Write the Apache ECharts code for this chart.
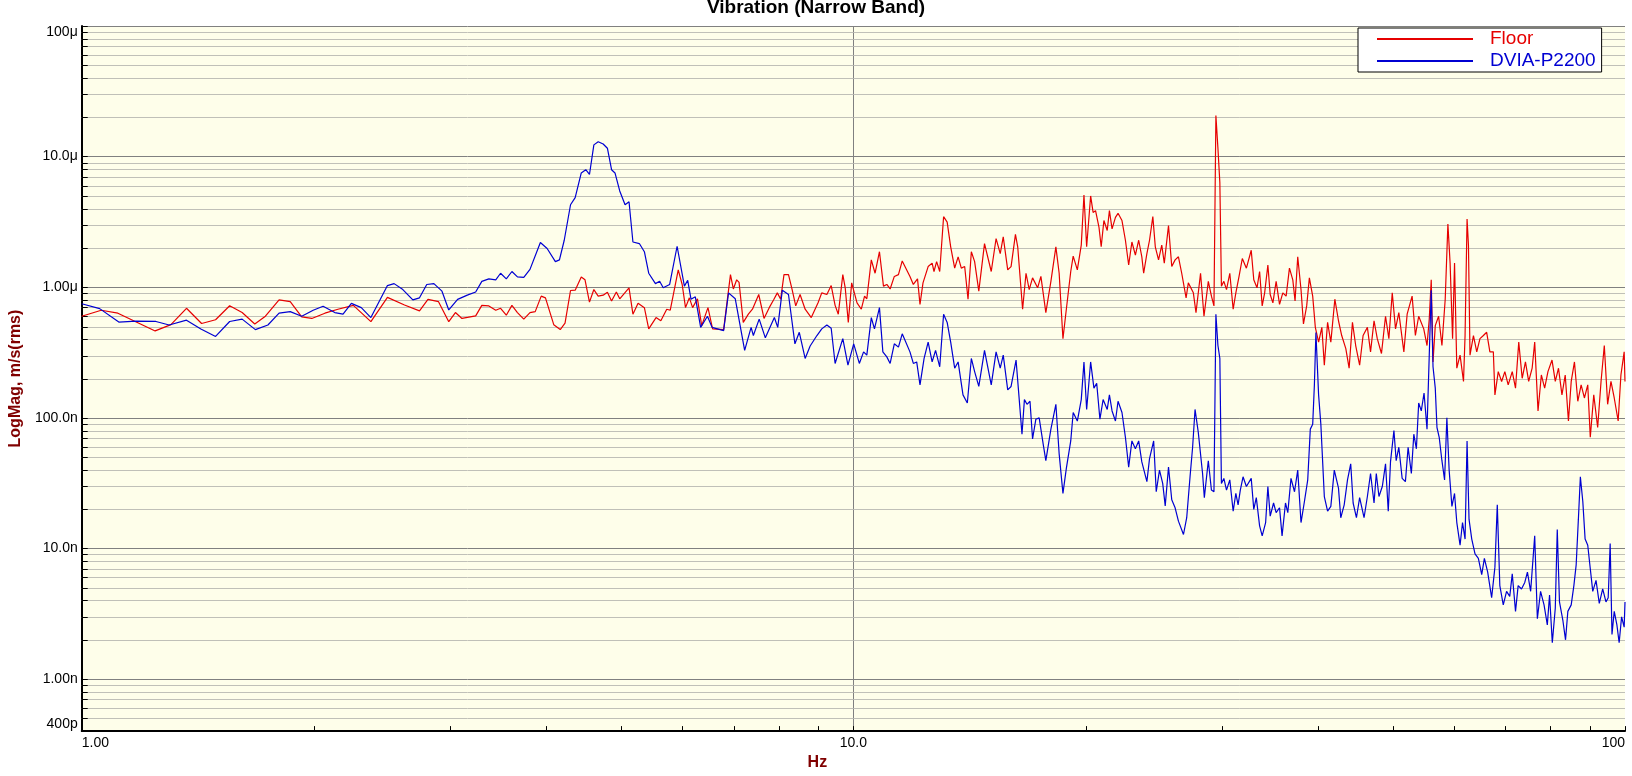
<!DOCTYPE html>
<html>
<head>
<meta charset="utf-8">
<title>Vibration (Narrow Band)</title>
<script src="https://cdn.jsdelivr.net/npm/echarts@6.0.0/dist/echarts.min.js"></script>
<style>
  html, body { margin: 0; padding: 0; background: #fff; }
  #chart { width: 1632px; height: 776px; }
</style>
</head>
<body>
<div id="chart"></div>
<script>
// spectra: [Hz, um/s rms]
var floorSpectrum = [
  [1.00,0.60],[1.06,0.667],[1.114,0.633],[1.245,0.463],[1.305,0.517],[1.367,0.69],[1.43,0.528],[1.491,0.564],
  [1.555,0.722],[1.614,0.64],[1.676,0.523],[1.73,0.60],[1.802,0.80],[1.863,0.775],[1.928,0.594],[1.987,0.577],
  [2.066,0.633],[2.148,0.679],[2.249,0.727],[2.37,0.545],[2.49,0.836],[2.62,0.731],[2.74,0.659],[2.81,0.808],
  [2.90,0.775],[2.99,0.545],[3.05,0.64],
  [3.11,0.577],[3.24,0.604],[3.30,0.727],[3.37,0.719],[3.44,0.667],[3.49,0.69],[3.55,0.611],[3.61,0.727],
  [3.67,0.64],[3.74,0.57],[3.81,0.64],[3.87,0.651],[3.94,0.855],[3.99,0.83],[4.09,0.517],[4.17,0.474],
  [4.23,0.532],[4.30,0.944],[4.36,0.95],[4.44,1.2],[4.49,1.14],[4.55,0.77],[4.61,0.96],[4.67,0.855],
  [4.74,0.87],[4.80,0.917],[4.86,0.784],[4.93,0.92],[4.98,0.816],[5.12,0.99],[5.18,0.622],[5.26,0.753],
  [5.36,0.698],[5.43,0.48],[5.55,0.586],[5.63,0.554],[5.73,0.679],[5.79,0.667],[5.85,0.906],[5.93,1.36],
  [6.00,1.05],[6.06,0.698],[6.13,0.83],[6.19,0.698],[6.28,0.816],[6.36,0.508],[6.48,0.698],[6.57,0.48],
  [6.79,0.474],[6.93,1.25],[6.99,0.97],[7.06,1.14],[7.11,1.09],[7.20,0.538],[7.31,0.622],[7.40,0.679],
  [7.54,0.88],[7.66,0.577],[7.78,0.698],[7.89,0.81],[7.97,0.906],[8.05,0.81],[8.13,1.25],[8.24,1.25],
  [8.33,0.96],[8.42,0.72],[8.53,0.88],[8.66,0.679],[8.82,0.586],[9.00,0.76],[9.10,0.906],[9.24,0.88],
  [9.36,1.03],[9.47,0.727],[9.56,0.622],[9.69,1.25],[9.76,0.99],[9.85,0.538],[9.95,1.08],
  [10.11,0.76],[10.24,0.679],[10.34,0.855],[10.41,0.816],[10.55,1.62],[10.67,1.28],[10.81,1.87],[10.94,1.02],
  [11.05,1.05],[11.16,0.97],[11.30,1.21],[11.44,1.25],[11.57,1.59],[11.84,1.21],[11.96,1.05],[12.11,1.16],
  [12.20,0.74],[12.31,1.08],[12.50,1.44],[12.65,1.53],[12.72,1.32],[12.82,1.57],[12.94,1.32],[13.09,3.47],
  [13.23,3.15],[13.37,2.04],[13.53,1.40],[13.67,1.71],[13.80,1.40],[13.94,1.44],[14.08,0.81],[14.22,1.87],
  [14.36,1.57],[14.54,0.933],[14.79,2.16],[15.09,1.32],[15.31,2.36],[15.50,1.81],[15.64,2.43],[15.85,1.36],
  [16.01,1.44],[16.22,2.54],[16.33,2.04],[16.57,0.679],[16.74,1.28],[16.90,0.96],[17.07,1.18],[17.33,0.99],
  [17.50,1.21],[17.76,0.64],[18.03,1.11],[18.30,2.04],[18.48,1.28],[18.69,0.403],[18.88,0.679],[19.13,1.32],
  [19.27,1.73],[19.51,1.36],[19.74,2.1],[19.90,5.09],[20.06,2.04],[20.30,5.0],[20.45,3.74],[20.60,3.86],
  [20.81,2.89],[20.95,2.04],[21.12,3.24],[21.33,2.72],[21.47,3.86],[21.64,2.8],[21.86,3.43],[22.03,3.68],
  [22.29,3.24],[22.52,2.29],[22.74,1.48],[22.96,2.22],[23.20,1.76],[23.43,2.29],[23.65,1.71],[23.78,1.28],
  [24.01,1.81],[24.20,2.29],[24.44,3.47],[24.62,2.04],[24.86,1.62],[25.10,2.1],[25.29,1.53],[25.61,2.97],
  [25.86,1.44],[26.12,1.62],[26.38,1.71],[26.64,1.28],[26.99,0.83],[27.17,1.08],[27.58,0.906],[27.80,0.64],
  [28.18,1.28],[28.47,0.60],[28.84,1.11],[29.11,0.855],[29.33,0.719],[29.50,20.6],[29.68,11.6],[29.85,6.32],
  [29.99,1.02],[30.21,1.11],[30.45,0.96],[30.75,1.28],
  [31.06,0.679],[31.31,0.906],[31.61,1.21],[31.92,1.66],[32.31,1.40],[32.78,1.92],[33.03,1.14],[33.35,0.99],
  [33.61,1.32],[33.87,0.72],[34.12,0.906],[34.45,1.48],[34.69,0.88],[34.97,0.76],[35.31,1.11],[35.67,0.74],
  [36.02,0.906],[36.38,0.855],[36.74,1.40],[37.11,1.14],[37.36,0.784],[37.66,1.71],[38.03,0.96],[38.31,0.523],
  [38.68,0.72],[38.99,1.18],[39.38,0.855],[39.69,0.493],[40.08,0.38],[40.47,0.493],[40.77,0.253],[41.17,0.538],
  [41.57,0.38],[42.07,0.81],[42.53,0.554],[42.94,0.427],[43.47,0.339],[43.90,0.24],[44.34,0.538],[44.77,0.358],
  [45.30,0.253],[45.77,0.427],[46.36,0.493],[46.80,0.32],[47.29,0.554],[47.75,0.404],[48.35,0.311],[48.94,0.60],
  [49.43,0.404],[49.93,0.906],[50.42,0.48],[50.92,0.64],[51.69,0.32],[52.20,0.622],[52.98,0.855],[53.50,0.427],
  [54.03,0.60],[54.85,0.48],[55.39,0.358],[55.76,0.57],[56.09,1.14],[56.39,0.268],[56.77,0.508],[57.34,0.60],
  [57.91,0.358],[58.48,0.81],[58.95,3.05],[59.34,1.53],[59.78,0.404],[60.13,1.53],[60.54,0.24],[61.13,0.302],
  [61.76,0.19],[62.05,0.427],[62.42,3.33],[62.68,2.1],[62.97,0.302],[63.62,0.427],[64.25,0.32],[64.87,0.404],
  [65.54,0.427],[66.18,0.452],[66.82,0.32],[67.51,0.32],[67.83,0.15],[68.51,0.226],[69.20,0.19],[69.87,0.226],
  [70.57,0.179],[71.43,0.226],[72.13,0.169],[72.83,0.38],[73.58,0.201],[74.30,0.268],[75.02,0.19],[75.80,0.24],
  [76.38,0.38],[77.14,0.113],[77.91,0.213],[78.68,0.169],[79.46,0.226],[80.43,0.277],[81.22,0.19],[82.00,0.24],
  [82.85,0.15],[83.66,0.213],[84.47,0.0946],[85.17,0.19],[86.00,0.268],[86.86,0.134],[87.73,0.179],[88.59,0.142],
  [89.48,0.179],[90.16,0.071],[91.10,0.15],[92.17,0.0844],[93.10,0.19],[94.01,0.358],[94.95,0.127],[95.90,0.19],
  [96.84,0.142],[97.98,0.0946],[98.79,0.213],[99.75,0.32],[100,0.19]
];
var dviaSpectrum = [
  [1.00,0.748],[1.055,0.686],[1.117,0.541],[1.176,0.55],[1.248,0.547],[1.298,0.514],[1.367,0.56],[1.427,0.479],
  [1.491,0.42],[1.555,0.547],[1.614,0.57],[1.679,0.474],[1.743,0.514],[1.802,0.633],[1.863,0.651],[1.928,0.60],
  [1.995,0.667],[2.055,0.715],[2.128,0.64],[2.181,0.622],[2.236,0.753],[2.303,0.698],[2.37,0.586],[2.49,1.03],
  [2.54,1.066],[2.607,0.96],[2.686,0.80],[2.74,0.83],[2.80,1.05],[2.86,1.066],[2.93,0.933],[2.99,0.67],
  [3.07,0.808],[3.16,0.87],[3.24,0.92],[3.30,1.11],[3.37,1.16],[3.44,1.14],[3.49,1.28],[3.55,1.16],
  [3.61,1.32],[3.67,1.2],[3.74,1.19],[3.81,1.37],[3.93,2.2],[4.01,1.98],[4.11,1.57],[4.16,1.62],
  [4.22,2.29],[4.30,4.28],[4.36,4.86],[4.44,7.5],[4.50,7.94],[4.55,7.3],[4.61,12.3],[4.67,13.0],
  [4.74,12.5],[4.80,11.6],[4.86,7.94],[4.91,7.5],[4.98,5.46],[5.06,4.28],[5.12,4.51],[5.18,2.22],
  [5.28,2.16],[5.36,1.87],[5.43,1.28],[5.54,1.066],[5.61,1.11],[5.67,0.99],[5.78,1.05],[5.91,2.06],
  [6.04,1.02],[6.10,1.13],[6.16,0.81],[6.24,0.845],[6.34,0.493],[6.47,0.60],[6.56,0.493],[6.79,0.466],
  [6.89,0.906],[7.03,0.816],[7.23,0.329],[7.37,0.493],[7.42,0.427],[7.55,0.57],[7.69,0.41],[7.90,0.586],
  [7.98,0.493],[8.09,0.95],[8.24,0.88],[8.40,0.369],[8.51,0.452],[8.66,0.285],[8.79,0.355],[8.97,0.427],
  [9.10,0.48],[9.24,0.514],[9.36,0.485],[9.47,0.261],[9.69,0.404],[9.84,0.253],
  [10.01,0.369],[10.18,0.261],[10.31,0.32],[10.41,0.302],[10.55,0.586],[10.65,0.48],[10.81,0.698],[10.92,0.32],
  [11.05,0.293],[11.16,0.261],[11.30,0.369],[11.44,0.348],[11.57,0.44],[11.84,0.32],[11.96,0.261],[12.08,0.268],
  [12.20,0.179],[12.35,0.285],[12.50,0.38],[12.65,0.268],[12.78,0.329],[12.94,0.246],[13.09,0.622],[13.23,0.538],
  [13.37,0.38],[13.53,0.24],[13.67,0.268],[13.87,0.15],[14.05,0.13],[14.22,0.285],[14.36,0.226],[14.54,0.174],
  [14.79,0.329],[15.09,0.179],[15.31,0.32],[15.50,0.24],[15.64,0.302],[15.85,0.164],[16.01,0.174],[16.25,0.277],
  [16.36,0.169],[16.54,0.075],[16.66,0.138],[16.79,0.127],[16.94,0.134],[17.07,0.069],[17.24,0.0977],[17.41,0.1],
  [17.62,0.063],[17.76,0.047],[18.03,0.082],[18.30,0.127],[18.48,0.053],[18.69,0.0264],[18.88,0.041],[19.13,0.0666],
  [19.27,0.11],[19.51,0.0946],[19.74,0.138],[19.90,0.268],[20.06,0.116],[20.30,0.268],[20.50,0.169],[20.67,0.184],
  [20.87,0.0977],[21.07,0.138],[21.33,0.116],[21.47,0.15],[21.64,0.113],[21.86,0.0946],[22.03,0.134],[22.29,0.11],
  [22.52,0.071],[22.74,0.042],[22.96,0.0666],[23.20,0.058],[23.43,0.0666],[23.65,0.046],[24.01,0.0325],[24.20,0.0488],
  [24.50,0.0666],[24.69,0.0272],[24.93,0.0398],[25.17,0.0315],[25.36,0.0212],[25.61,0.042],[25.86,0.0236],[26.12,0.0205],
  [26.38,0.0162],[26.78,0.0128],[27.04,0.0172],[27.31,0.0354],[27.52,0.0596],[27.72,0.116],[27.99,0.0775],[28.35,0.0375],
  [28.50,0.0245],[28.84,0.047],[29.11,0.028],[29.33,0.0272],[29.50,0.622],[29.68,0.358],[29.85,0.285],[29.99,0.0315],
  [30.21,0.0344],[30.45,0.028],[30.75,0.0335],
  [31.06,0.0193],[31.31,0.0264],[31.52,0.0216],[31.73,0.028],[31.99,0.0354],[32.31,0.0298],[32.78,0.0344],[33.03,0.0199],
  [33.28,0.0245],[33.61,0.0149],[33.87,0.0125],[34.22,0.0158],[34.45,0.0298],[34.69,0.0177],[35.04,0.0223],[35.31,0.0188],
  [35.67,0.0205],[35.94,0.0125],[36.31,0.0223],[36.56,0.0188],[36.91,0.0344],[37.30,0.0272],[37.66,0.0398],[38.03,0.0158],
  [38.42,0.0229],[38.80,0.0335],[39.10,0.082],[39.38,0.0892],[39.58,0.179],[39.76,0.45],[40.08,0.15],[40.35,0.0892],
  [40.77,0.025],[41.17,0.0193],[41.57,0.021],[42.00,0.0398],[42.53,0.029],[42.82,0.0172],[43.26,0.0216],[43.69,0.0335],
  [44.11,0.0445],[44.43,0.0223],[44.87,0.0172],[45.30,0.0245],[45.90,0.0172],[46.36,0.025],[46.80,0.0375],[47.29,0.0223],
  [47.61,0.0375],[47.99,0.025],[48.47,0.0298],[48.94,0.0445],[49.34,0.0193],[49.67,0.046],[50.18,0.08],[50.52,0.047],
  [50.92,0.0596],[51.43,0.0344],[51.93,0.0325],[52.35,0.0596],[52.86,0.0375],[53.25,0.075],[53.66,0.058],[54.03,0.13],
  [54.45,0.113],[54.90,0.155],[55.39,0.082],[55.76,0.302],[56.09,0.95],[56.39,0.246],[56.77,0.169],[57.06,0.0844],
  [57.44,0.071],[57.91,0.047],[58.37,0.0335],[58.77,0.1],[59.17,0.0398],[59.66,0.021],[60.13,0.0264],[60.54,0.0158],
  [61.13,0.0106],[61.58,0.0158],[62.05,0.0118],[62.42,0.0666],[62.79,0.0167],[63.30,0.0118],[63.92,0.0091],[64.56,0.0084],
  [65.21,0.0063],[65.73,0.0084],[66.38,0.0066],[67.17,0.0042],[67.83,0.0072],[68.31,0.0216],[68.83,0.0052],[69.54,0.0037],
  [70.23,0.0047],[70.90,0.0043],[71.43,0.0064],[72.13,0.0033],[72.70,0.0052],[73.43,0.0049],[74.15,0.0055],[74.74,0.0066],
  [75.46,0.0047],[76.38,0.0125],[76.99,0.0029],[77.73,0.0047],[78.54,0.0037],[79.31,0.0026],[79.84,0.0044],[80.50,0.0019],
  [81.22,0.0035],[81.70,0.014],[82.24,0.0039],[83.09,0.0028],[83.74,0.002],[84.32,0.0033],[85.17,0.0037],[85.85,0.0052],
  [86.44,0.0075],[87.01,0.0167],[87.53,0.0354],[88.17,0.0229],[88.78,0.0118],[89.48,0.0106],[90.16,0.007],[90.83,0.0047],
  [91.72,0.0057],[92.61,0.0038],[93.56,0.0049],[94.48,0.0039],[95.11,0.0042],[95.67,0.0109],[96.19,0.0022],[96.84,0.0033],
  [97.61,0.0026],[98.27,0.0019],[98.99,0.003],[99.75,0.0025],[100,0.0039]
];

var xMin = 1, xMax = 100;
var yMin = 4e-10, yMax = 1e-4;
var xTickValues = [1, 10, 100];
var xTickLabels = ['1.00', '10.0', '100'];
var yTickValues = [4e-10, 1e-9, 1e-8, 1e-7, 1e-6, 1e-5, 1e-4];
var yTickLabels = ['400p', '1.00n', '10.0n', '100.0n', '1.00\u03bc', '10.0\u03bc', '100\u03bc'];
var minorSteps = [2, 3, 4, 5, 6, 7, 8, 9];
var xDecades = [1, 10];
var yDecades = [1e-10, 1e-9, 1e-8, 1e-7, 1e-6, 1e-5];

var floorColor = '#e60000';
var dviaColor = '#0000d2';
var font = 'Liberation Sans, Arial, sans-serif';

function tickText(v, values, labels) {
  for (var i = 0; i < values.length; i++) {
    if (Math.abs(v / values[i] - 1) < 1e-6) return labels[i];
  }
  return '';
}

// minor grid positions (2..9 of each decade)
var yMinor = [];
yDecades.forEach(function (d) {
  minorSteps.forEach(function (m) {
    var v = m * d;
    if (v > yMin * 1.0001 && v < yMax) yMinor.push([xMin, v]);
  });
});
var xMinor = [];
xDecades.forEach(function (d) {
  minorSteps.forEach(function (m) { xMinor.push([m * d, yMin]); });
});

function toSI(list) {
  return list.map(function (p) { return [p[0], p[1] * 1e-6]; });
}

var chart = echarts.init(document.getElementById('chart'));
var option = {
  animation: false,
  backgroundColor: '#ffffff',
  textStyle: { fontFamily: font },
  title: {
    text: 'Vibration (Narrow Band)',
    left: 'center',
    top: -2,
    padding: 0,
    textStyle: { fontFamily: font, fontSize: 19, fontWeight: 'bold', color: '#000' }
  },
  legend: {
    orient: 'vertical',
    left: 1358,
    top: 28,
    padding: [0, 6, 0, 19],
    itemGap: 0,
    itemWidth: 96,
    itemHeight: 2,
    icon: 'rect',
    backgroundColor: '#ffffff',
    borderColor: '#000000',
    borderWidth: 1,
    borderRadius: 0,
    textStyle: { fontFamily: font, fontSize: 19, lineHeight: 22, padding: [0, 0, 0, 12] },
    data: [
      { name: 'Floor', textStyle: { color: floorColor } },
      { name: 'DVIA-P2200', textStyle: { color: dviaColor } }
    ]
  },
  grid: {
    left: 71, right: 7, top: 26, bottom: 35,
    show: true, backgroundColor: '#fefeea', borderWidth: 0
  },
  xAxis: {
    type: 'log',
    logBase: 10,
    min: xMin,
    max: xMax,
    name: 'Hz',
    nameLocation: 'middle',
    nameGap: 20,
    nameTextStyle: { fontFamily: font, fontSize: 16, fontWeight: 'bold', color: '#800000', padding: [0, 72, 0, 0] },
    axisLine: { onZero: false, lineStyle: { color: '#000', width: 2 } },
    axisTick: { inside: true, length: 5, lineStyle: { color: '#000' } },
    axisLabel: {
      fontFamily: font, fontSize: 14, color: '#000', margin: 5,
      alignMinLabel: 'left', alignMaxLabel: 'right',
      formatter: function (v) { return tickText(v, xTickValues, xTickLabels); }
    },
    splitLine: { show: true, showMinLine: false, showMaxLine: false, lineStyle: { color: '#808080', width: 1 } }
  },
  yAxis: {
    type: 'log',
    logBase: 10,
    min: yMin,
    max: yMax,
    name: 'LogMag, m/s(rms)',
    nameLocation: 'middle',
    nameRotate: 90,
    nameGap: 52,
    nameTextStyle: { fontFamily: font, fontSize: 16, fontWeight: 'bold', color: '#800000' },
    axisLine: { lineStyle: { color: '#000', width: 2 } },
    axisTick: { inside: true, length: 6, lineStyle: { color: '#000' } },
    axisLabel: {
      fontFamily: font, fontSize: 14, color: '#000', margin: 4,
      verticalAlignMinLabel: 'bottom',
      formatter: function (v) {
        var t = tickText(v, yTickValues, yTickLabels);
        // top label sits just inside the plot, like the original
        return Math.abs(v / yMax - 1) < 1e-6 ? '{top|' + t + '}' : t;
      },
      rich: { top: { fontFamily: font, fontSize: 14, color: '#000', padding: [12, 0, 0, 0] } }
    },
    splitLine: { show: true, showMinLine: false, showMaxLine: false, lineStyle: { color: '#808080', width: 1 } }
  },
  series: [
    {
      name: 'yMinorGrid',
      type: 'custom',
      silent: true,
      z: 1,
      data: yMinor,
      renderItem: function (params, api) {
        var a = api.coord([xMin, api.value(1)]);
        var b = api.coord([xMax, api.value(1)]);
        var y = Math.round(a[1]) + 0.5;
        return {
          type: 'group',
          children: [
            { type: 'line', shape: { x1: a[0], y1: y, x2: b[0], y2: y }, style: { stroke: '#c0c0b8', lineWidth: 1 } },
            { type: 'line', shape: { x1: a[0], y1: y, x2: a[0] + 6, y2: y }, style: { stroke: '#000', lineWidth: 1 } }
          ]
        };
      }
    },
    {
      name: 'xMinorTicks',
      type: 'custom',
      silent: true,
      z: 3,
      data: xMinor,
      renderItem: function (params, api) {
        var a = api.coord([api.value(0), yMin]);
        var x = Math.round(a[0]) + 0.5;
        return { type: 'line', shape: { x1: x, y1: a[1], x2: x, y2: a[1] - 5 }, style: { stroke: '#000', lineWidth: 1 } };
      }
    },
    {
      name: 'Floor',
      type: 'line',
      data: toSI(floorSpectrum),
      showSymbol: false,
      symbol: 'none',
      z: 2,
      color: floorColor,
      lineStyle: { color: floorColor, width: 1.2 }
    },
    {
      name: 'DVIA-P2200',
      type: 'line',
      data: toSI(dviaSpectrum),
      showSymbol: false,
      symbol: 'none',
      z: 2,
      color: dviaColor,
      lineStyle: { color: dviaColor, width: 1.2 }
    }
  ]
};
chart.setOption(option);
</script>
</body>
</html>
